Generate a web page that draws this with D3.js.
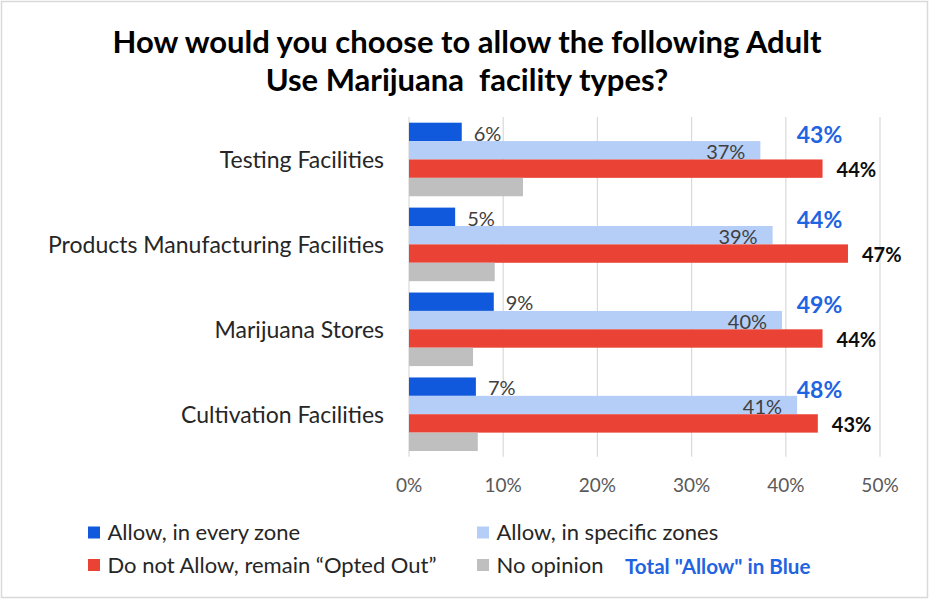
<!DOCTYPE html>
<html>
<head>
<meta charset="utf-8">
<script src="https://cdn.jsdelivr.net/npm/d3@7"></script>
<style>
  body { margin: 0; background: #fff; }
  svg { display: block; font-family: Lato, sans-serif; }
</style>
</head>
<body>
<div id="graphic"></div>
<script>
'use strict';

const categories = [`Testing Facilities`, `Products Manufacturing Facilities`, `Marijuana Stores`, `Cultivation Facilities`];
const seriesNames = [`Allow, in every zone`, `Allow, in specific zones`, `Do not Allow, remain “Opted Out”`, `No opinion`];
const everyZone = [5.6, 4.9, 9.0, 7.1];
const specificZones = [37.3, 38.6, 39.6, 41.2];
const optedOut = [43.9, 46.6, 43.9, 43.4];
const noOpinion = [12.1, 9.1, 6.8, 7.3];
const totalAllow = [43, 44, 49, 48];
const xTicks = [0, 10, 20, 30, 40, 50];

(function (d3) {
  const width = 930;
  const height = 600;
  const colors = [`#1059DC`, `#B4CEF7`, `#EA4335`, `#BFBFBF`];
  const seriesValues = [everyZone, specificZones, optedOut, noOpinion];

  const svg = d3.select(`#graphic`).append(`svg`).attr(`width`, width).attr(`height`, height);

  // outer frame
  svg.append(`rect`)
    .attr(`x`, 1.5).attr(`y`, 1.5)
    .attr(`width`, width - 4).attr(`height`, height - 4)
    .attr(`fill`, `#fff`).attr(`stroke`, `#d9d9d9`).attr(`stroke-width`, 1.5);

  const x = d3.scaleLinear().domain([0, 50]).range([409, 880]);
  const y = d3.scaleBand().domain(categories).range([117, 456.7]).paddingInner(0.134).paddingOuter(0.067);
  const ySub = d3.scaleBand().domain(d3.range(seriesNames.length)).range([0, y.bandwidth()]);

  // title
  svg.append(`g`)
    .attr(`font-weight`, `bold`).attr(`font-size`, 31).attr(`text-anchor`, `middle`).attr(`fill`, `#000`)
    .selectAll(`text`)
    .data([`How would you choose to allow the following Adult`, `Use Marijuana\u00a0 facility types?`])
    .join(`text`)
    .attr(`x`, 467)
    .attr(`y`, (d, i) => 53 + i * 38)
    .text((d) => d);

  // gridlines
  svg.append(`g`)
    .selectAll(`line`)
    .data(xTicks)
    .join(`line`)
    .attr(`x1`, (d) => x(d)).attr(`x2`, (d) => x(d))
    .attr(`y1`, y.range()[0]).attr(`y2`, y.range()[1])
    .attr(`stroke`, `#d9d9d9`).attr(`stroke-width`, 1.2);

  // x tick labels
  svg.append(`g`)
    .attr(`font-size`, 19).attr(`fill`, `#595959`).attr(`text-anchor`, `middle`)
    .selectAll(`text`)
    .data(xTicks)
    .join(`text`)
    .attr(`x`, (d) => x(d))
    .attr(`y`, 492)
    .text((d) => `${d}%`);

  // category labels
  svg.append(`g`)
    .attr(`font-size`, 23).attr(`fill`, `#262626`).attr(`text-anchor`, `end`)
    .selectAll(`text`)
    .data(categories)
    .join(`text`)
    .attr(`x`, 384)
    .attr(`y`, (d) => y(d) + y.bandwidth() / 2)
    .attr(`dy`, `0.36em`)
    .text((d) => d);

  const bars = [];
  categories.forEach((c, ci) => {
    seriesValues.forEach((vals, si) => bars.push({ cat: c, ci: ci, si: si, value: vals[ci] }));
  });

  const groups = svg.append(`g`)
    .selectAll(`g`)
    .data(categories)
    .join(`g`)
    .attr(`transform`, (d) => `translate(0,${y(d)})`);

  groups.selectAll(`rect`)
    .data((d) => bars.filter((b) => b.cat === d))
    .join(`rect`)
    .attr(`x`, x(0))
    .attr(`y`, (d) => ySub(d.si))
    .attr(`width`, (d) => x(d.value) - x(0))
    .attr(`height`, ySub.bandwidth())
    .attr(`fill`, (d) => colors[d.si]);

  // data labels
  groups.selectAll(`text.lbl`)
    .data((d) => bars.filter((b) => b.cat === d && b.si < 3))
    .join(`text`)
    .attr(`class`, `lbl`)
    .attr(`font-size`, 20)
    .attr(`font-weight`, (d) => (d.si === 2 ? `bold` : `normal`))
    .attr(`fill`, (d) => (d.si === 2 ? `#0d0d0d` : `#404040`))
    .attr(`text-anchor`, (d) => (d.si === 1 ? `end` : `start`))
    .attr(`x`, (d) => (d.si === 1 ? x(d.value) - 15 : x(d.value) + (d.si === 2 ? 14 : 12)))
    .attr(`y`, (d) => ySub(d.si) + ySub.bandwidth() / 2 + 1.5)
    .attr(`dy`, `0.36em`)
    .text((d) => `${Math.round(d.value)}%`);

  // total "allow" labels
  svg.append(`g`)
    .attr(`font-size`, 23).attr(`font-weight`, `bold`).attr(`fill`, `#1F64E0`).attr(`text-anchor`, `middle`)
    .selectAll(`text`)
    .data(totalAllow)
    .join(`text`)
    .attr(`x`, 819.5)
    .attr(`y`, (d, i) => y(categories[i]) + ySub(0) + ySub.bandwidth() / 2 + 3)
    .attr(`dy`, `0.36em`)
    .text((d) => `${d}%`);

  // legend
  const legend = svg.append(`g`)
    .selectAll(`g`)
    .data(seriesNames)
    .join(`g`)
    .attr(`transform`, (d, i) => `translate(${i % 2 === 0 ? 88 : 477},${i < 2 ? 532.5 : 565})`);
  legend.append(`rect`)
    .attr(`x`, 0).attr(`y`, -6)
    .attr(`width`, 12).attr(`height`, 12)
    .attr(`fill`, (d, i) => colors[i]);
  legend.append(`text`)
    .attr(`x`, 19.5)
    .attr(`dy`, `0.36em`)
    .attr(`font-size`, 22)
    .attr(`fill`, `#262626`)
    .text((d) => d);

  svg.append(`text`)
    .attr(`x`, 625).attr(`y`, 566.5).attr(`dy`, `0.36em`)
    .attr(`font-size`, 20.6).attr(`font-weight`, `bold`).attr(`fill`, `#1F64E0`)
    .text(`Total "Allow" in Blue`);
})(d3);
</script>
</body>
</html>
